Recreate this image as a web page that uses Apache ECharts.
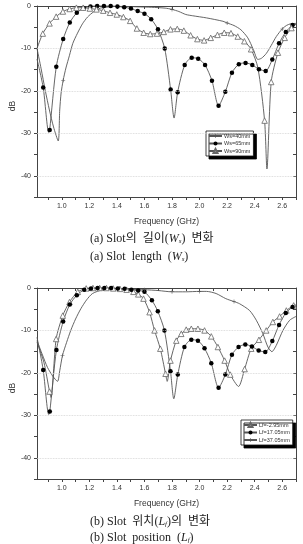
<!DOCTYPE html>
<html>
<head>
<meta charset="utf-8">
<script src="https://cdn.jsdelivr.net/npm/echarts@6/dist/echarts.min.js"></script>
<style>
html, body { margin: 0; padding: 0; background: #fff; }
#main { width: 303px; height: 544px; }
</style>
</head>
<body>
<div id="main"></div>
<script>
var xTickValues = [0.9, 1.0, 1.1, 1.2, 1.3, 1.4, 1.5, 1.6, 1.7, 1.8, 1.9, 2.0, 2.1, 2.2, 2.3, 2.4, 2.5, 2.6, 2.7];
var xLabelValues = [1.0, 1.2, 1.4, 1.6, 1.8, 2.0, 2.2, 2.4, 2.6];
var yTickValues = [0, -5, -10, -15, -20, -25, -30, -35, -40, -45];
var yLabelValues = [0, -10, -20, -30, -40];

// (a) slot length Ws : curve shape points and marker points [GHz, dB]
var ws40Line = [[0.82, -10], [0.85, -14.8], [0.88, -19.9], [0.91, -24.5], [0.94, -28.5], [0.974, -31.8],
  [0.985, -24.5], [0.995, -20.5], [1.03, -14.6], [1.056, -11.6], [1.08, -8.8], [1.114, -6.4], [1.15, -4.2],
  [1.187, -2.6], [1.23, -1.4], [1.28, -0.5], [1.35, -0.2], [1.45, -0.1], [1.55, -0.2], [1.65, -0.3],
  [1.75, -0.5], [1.85, -1.3], [1.9, -2.0], [1.95, -2.3], [2.05, -2.8], [2.17, -3.6], [2.25, -4.6],
  [2.3, -5.6], [2.35, -7.5], [2.39, -10.2], [2.423, -12.6], [2.45, -12.3], [2.484, -11.2], [2.52, -9.3],
  [2.557, -7.2], [2.63, -4.6], [2.66, -4.2], [2.7, -4.1]];
var ws40Marks = [[1.01, -17.5], [1.4, -0.1], [1.8, -0.8], [2.2, -4.0], [2.6, -5.4]];
var ws65Line = [[0.82, -12.5], [0.905, -29.8], [1.815, -26.4], [2.7, -4.3]];
var ws65Marks = [[0.865, -19.2], [0.912, -29.2], [0.96, -14.3], [1.01, -7.8], [1.058, -3.9], [1.109, -1.6],
  [1.159, -0.5], [1.208, -0.1], [1.257, 0], [1.306, 0], [1.355, 0], [1.404, -0.1], [1.453, -0.3],
  [1.502, -0.6], [1.551, -1.2], [1.6, -1.8], [1.649, -3.1], [1.698, -5.5], [1.747, -10], [1.79, -19.7],
  [1.841, -20.3], [1.892, -13.9], [1.943, -12.2], [1.99, -12.4], [2.04, -13.9], [2.09, -17.6],
  [2.138, -23.5], [2.187, -20.2], [2.235, -15.7], [2.285, -13.7], [2.334, -13.4], [2.383, -13.9],
  [2.431, -14.9], [2.48, -15.3], [2.528, -12.6], [2.577, -8.8], [2.626, -6.1], [2.675, -4.5]];
var ws90Line = [[0.82, -10], [2.423, -14.5], [2.489, -38.4], [2.7, -4.3]];
var ws90Marks = [[0.862, -6.5], [0.911, -4.1], [0.959, -2.5], [1.008, -1.3], [1.057, -0.7], [1.106, -0.4],
  [1.155, -0.4], [1.204, -0.6], [1.252, -0.8], [1.301, -1.1], [1.35, -1.6], [1.399, -2.0], [1.447, -2.6],
  [1.496, -3.5], [1.545, -5.3], [1.594, -6.3], [1.642, -6.6], [1.691, -6.5], [1.74, -6.1], [1.789, -5.5],
  [1.838, -5.4], [1.886, -5.8], [1.935, -6.9], [1.984, -7.8], [2.033, -8.1], [2.081, -7.5], [2.13, -6.8],
  [2.179, -6.3], [2.228, -6.4], [2.277, -7.2], [2.325, -8.3], [2.374, -10.2], [2.472, -27], [2.52, -17.9],
  [2.569, -11], [2.618, -7.5], [2.667, -5.2]];

// (b) slot position Lf
var lfm295Line = [[0.82, -12.8], [0.87, -17.5], [0.922, -25.8], [2.283, -23.2], [1.765, -22], [2.7, -4.0]];
var lfm295Marks = [[0.911, -24.4], [0.959, -12], [1.007, -6.5], [1.056, -3.3], [1.116, -0.9], [1.177, -0.1],
  [1.226, 0], [1.275, 0], [1.324, 0], [1.373, -0.1], [1.422, -0.2], [1.47, -0.4], [1.52, -0.9],
  [1.555, -1.5], [1.593, -2.5], [1.637, -5.7], [1.673, -10], [1.715, -14.3], [1.753, -20.2],
  [1.789, -17.1], [1.831, -12.4], [1.867, -10.8], [1.903, -9.8], [1.94, -9.6], [1.988, -9.6],
  [2.036, -10], [2.085, -11.4], [2.133, -13.9], [2.182, -17.1], [2.223, -20.4], [2.327, -19.1],
  [2.375, -14.3], [2.431, -12.2], [2.484, -10], [2.532, -8], [2.581, -6.7], [2.63, -5.3], [2.683, -4.1]];
var lf1705Line = [[0.82, -11.6], [0.905, -29.8], [1.813, -26.1], [2.7, -4.3]];
var lf1705Marks = [[0.865, -19.3], [0.913, -29.1], [0.961, -14.6], [1.01, -7.9], [1.058, -3.9], [1.109, -1.7],
  [1.163, -0.4], [1.212, -0.1], [1.26, 0], [1.309, 0], [1.358, 0], [1.407, -0.1], [1.456, -0.2],
  [1.505, -0.4], [1.554, -0.6], [1.6, -0.9], [1.654, -2.9], [1.697, -5.5], [1.745, -10], [1.789, -19.6],
  [1.842, -20.4], [1.89, -13.9], [1.94, -12.2], [1.988, -12.4], [2.036, -14.2], [2.085, -17.7],
  [2.138, -23.5], [2.187, -20.4], [2.235, -15.7], [2.283, -13.9], [2.332, -13.3], [2.38, -13.8],
  [2.429, -14.7], [2.477, -15.1], [2.528, -12.5], [2.577, -8.7], [2.626, -5.9], [2.675, -4.5]];
var lf3705Line = [[0.82, -12.4], [0.86, -15.8], [0.896, -18.7], [0.935, -20.8], [0.969, -22], [0.985, -19.5],
  [1.035, -12.8], [1.065, -10], [1.1, -7.3], [1.138, -4.9], [1.18, -2.8], [1.223, -1.3], [1.3, -0.4],
  [1.4, -0.2], [1.5, -0.3], [1.7, -0.6], [1.9, -0.9], [2.05, -0.8], [2.12, -1.3], [2.19, -2.5],
  [2.29, -3.7], [2.363, -5.3], [2.412, -7.6], [2.46, -10.8], [2.496, -13.9], [2.525, -15],
  [2.557, -13.5], [2.605, -10], [2.654, -7.6], [2.7, -6.7]];
var lf3705Marks = [[1.005, -15.9], [1.6, -0.4], [1.8, -0.9], [2.0, -0.8], [2.25, -3.2]];

var seriesNamesA = ['Ws=40mm', 'Ws=65mm', 'Ws=90mm'];
var seriesNamesB = ['Lf=-2.95mm', 'Lf=17.05mm', 'Lf=37.05mm'];

function build(line, marks) {
  var pts = line.map(function (p) { return { value: p, symbol: 'none' }; })
    .concat(marks.map(function (p) { return { value: p }; }));
  pts.sort(function (a, b) { return a.value[0] - b.value[0]; });
  return pts;
}

var plusSymbol = 'path://M0,4.3h10v1.4h-10z M4.3,0h1.4v10h-1.4z';
var styles = {
  plain: { symbol: plusSymbol, size: 4, item: { color: '#555' } },
  dot: { symbol: 'circle', size: 4.5, item: { color: '#000' } },
  tri: { symbol: 'triangle', size: 5.5, item: { color: '#fff', borderColor: '#666', borderWidth: 0.8 } }
};

function curve(name, g, data, st) {
  return {
    name: name, type: 'line', xAxisIndex: g * 2, yAxisIndex: g * 2,
    data: data, symbol: st.symbol, symbolSize: st.size, showSymbol: true,
    smooth: 0.25, clip: false, animation: false, silent: true,
    lineStyle: { color: '#555', width: 0.9 },
    itemStyle: st.item,
    emphasis: { disabled: true }
  };
}

function gridLines(g) {
  return {
    type: 'line', xAxisIndex: g * 2, yAxisIndex: g * 2, data: [], silent: true,
    markLine: {
      symbol: 'none', silent: true, animation: false, label: { show: false },
      lineStyle: { color: '#d0d0d0', type: 'dotted', width: 0.8 },
      data: yLabelValues.slice(1).map(function (v) { return { yAxis: v }; })
    }
  };
}

var font = 'Liberation Sans';
var axisColor = '#444';

function xAxes(g) {
  return [{
    type: 'value', gridIndex: g, min: 0.82, max: 2.7, position: 'bottom',
    axisLine: { show: true, onZero: false, lineStyle: { color: axisColor, width: 1 } },
    axisTick: { show: true, customValues: xTickValues, length: 3, lineStyle: { color: axisColor } },
    axisLabel: { customValues: xLabelValues, formatter: function (v) { return v.toFixed(1); },
      fontSize: 7, color: '#333', margin: 6, fontFamily: font },
    splitLine: { show: false },
    name: 'Frequency (GHz)', nameLocation: 'middle', nameGap: 20,
    nameTextStyle: { fontSize: 8.5, color: '#333', fontFamily: font }
  }, {
    type: 'value', gridIndex: g, min: 0.82, max: 2.7, position: 'top',
    axisLine: { show: true, onZero: false, lineStyle: { color: axisColor, width: 1 } },
    axisTick: { show: true, inside: true, customValues: xTickValues, length: 3, lineStyle: { color: axisColor } },
    axisLabel: { show: false }, splitLine: { show: false }
  }];
}

function yAxes(g) {
  return [{
    type: 'value', gridIndex: g, min: -45, max: 0, position: 'left',
    axisLine: { show: true, onZero: false, lineStyle: { color: axisColor, width: 1 } },
    axisTick: { show: true, customValues: yTickValues, length: 3, lineStyle: { color: axisColor } },
    axisLabel: { customValues: yLabelValues, fontSize: 7, color: '#333', margin: 6, fontFamily: font },
    splitLine: { show: false }
  }, {
    type: 'value', gridIndex: g, min: -45, max: 0, position: 'right',
    axisLine: { show: true, onZero: false, lineStyle: { color: axisColor, width: 1 } },
    axisTick: { show: true, inside: true, customValues: yTickValues, length: 3, lineStyle: { color: axisColor } },
    axisLabel: { show: false }, splitLine: { show: false }
  }];
}

function legend(names, left, top) {
  return {
    data: names, orient: 'vertical', left: left, top: top, selectedMode: false,
    itemWidth: 13, itemHeight: 5, itemGap: 1.5, padding: [2, 3, 2, 2],
    backgroundColor: '#fff', borderColor: '#111', borderWidth: 0.8,
    shadowColor: '#000', shadowBlur: 0, shadowOffsetX: 3, shadowOffsetY: 3,
    textStyle: { fontSize: 5.5, color: '#333', fontFamily: font, padding: [0, 0, 0, -3] }
  };
}

var capFont = "'Liberation Serif', 'Noto Sans CJK KR', serif";
var capRich = {
  i: { fontStyle: 'italic', fontSize: 12, fontFamily: capFont, fill: '#222' },
  s: { fontStyle: 'italic', fontSize: 7, fontFamily: capFont, fill: '#222', verticalAlign: 'bottom', padding: [5, 0, 0, 0] }
};
function caption(text, y) {
  return { type: 'text', x: 90, y: y, style: { text: text, rich: capRich, fontSize: 12, fontFamily: capFont,
    fill: '#222', verticalAlign: 'middle', align: 'left' } };
}
function dbLabel(y) {
  return { type: 'text', x: 13, y: y, rotation: Math.PI / 2,
    style: { text: 'dB', fontSize: 8.5, fontFamily: font, fill: '#333', align: 'center', verticalAlign: 'middle' } };
}

var myChart = echarts.init(document.getElementById('main'));

var option = {
  animation: false,
  grid: [
    { left: 37, top: 6, width: 259, height: 191 },
    { left: 37, top: 288, width: 259, height: 191 }
  ],
  xAxis: xAxes(0).concat(xAxes(1)),
  yAxis: yAxes(0).concat(yAxes(1)),
  legend: [legend(seriesNamesA, 206, 131), legend(seriesNamesB, 241, 420)],
  series: [
    gridLines(0),
    curve(seriesNamesA[0], 0, build(ws40Line, ws40Marks), styles.plain),
    curve(seriesNamesA[1], 0, build(ws65Line, ws65Marks), styles.dot),
    curve(seriesNamesA[2], 0, build(ws90Line, ws90Marks), styles.tri),
    gridLines(1),
    curve(seriesNamesB[0], 1, build(lfm295Line, lfm295Marks), styles.tri),
    curve(seriesNamesB[1], 1, build(lf1705Line, lf1705Marks), styles.dot),
    curve(seriesNamesB[2], 1, build(lf3705Line, lf3705Marks), styles.plain)
  ],
  graphic: [
    dbLabel(106),
    dbLabel(388),
    caption('(a) Slot의  길이({i|W}{s|s})  변화', 239),
    caption('(a) Slot  length  ({i|W}{s|s})', 257),
    caption('(b) Slot  위치({i|L}{s|f})의  변화', 521.5),
    caption('(b) Slot  position  ({i|L}{s|f})', 538)
  ]
};
myChart.setOption(option);
</script>
</body>
</html>
